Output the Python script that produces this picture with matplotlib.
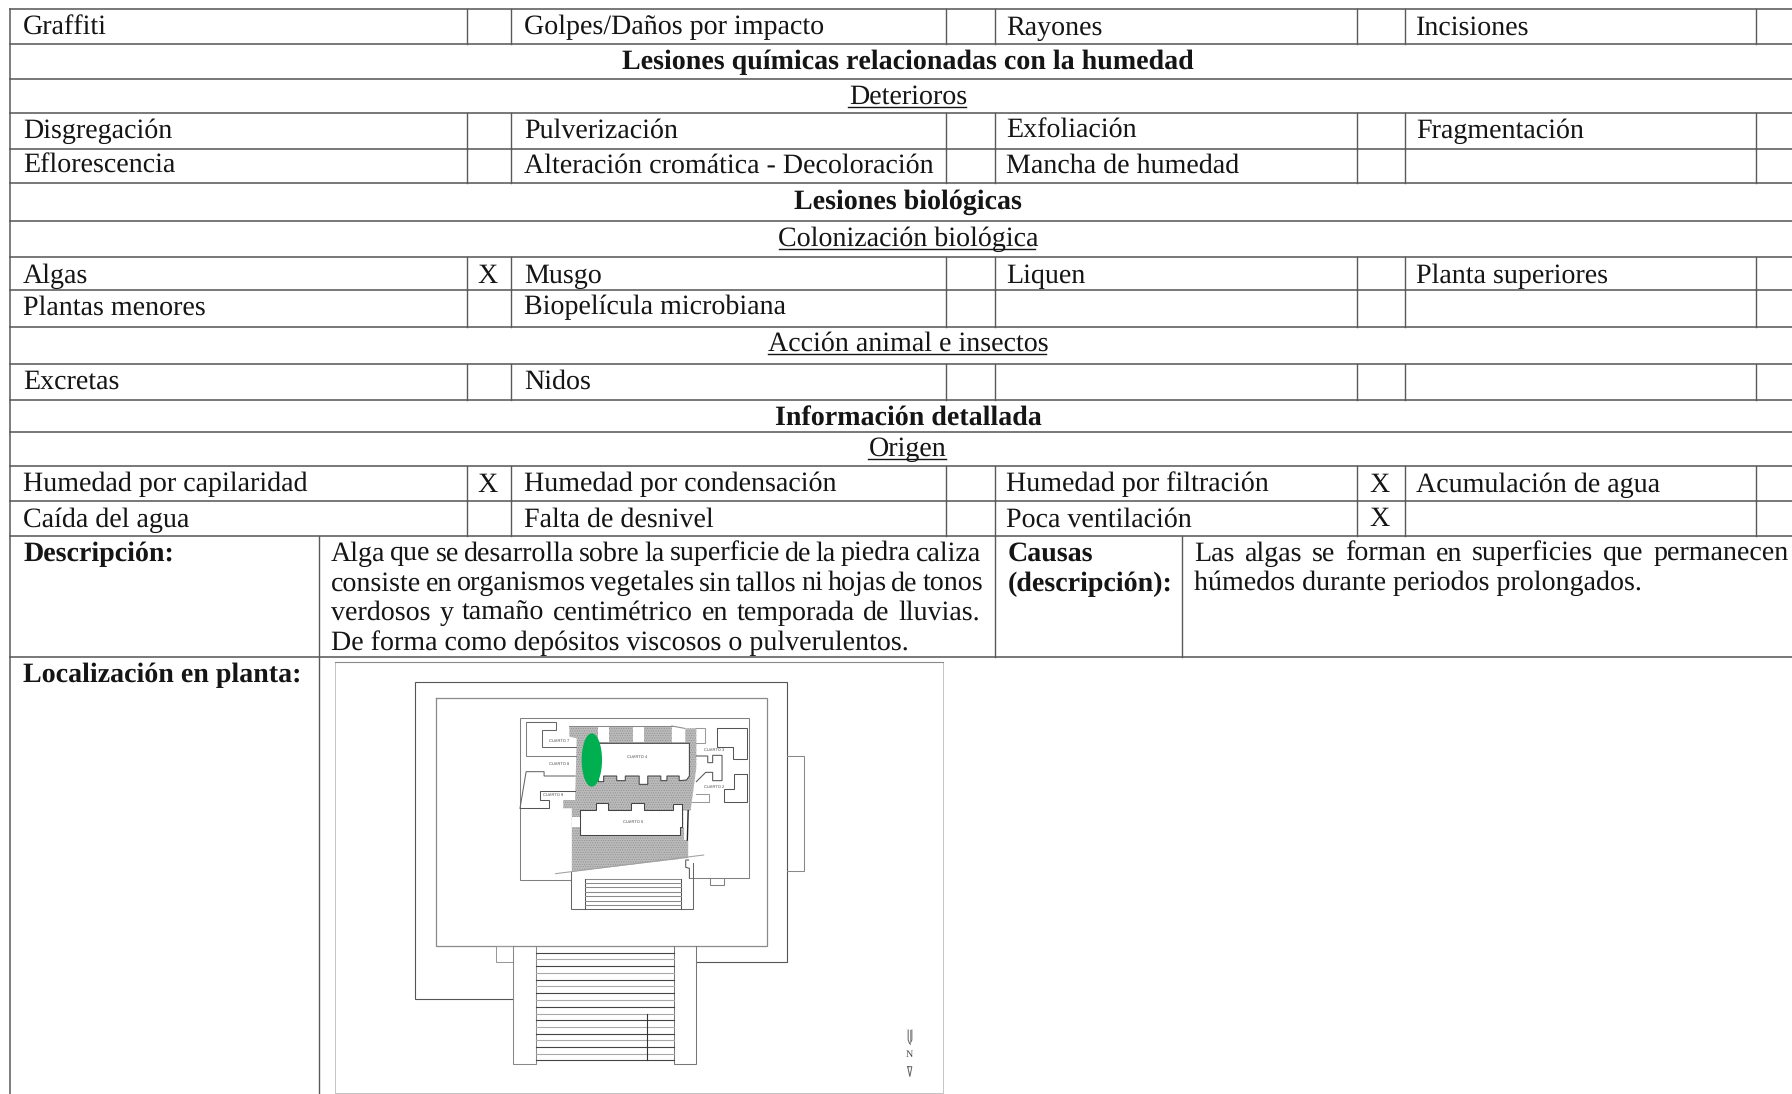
import matplotlib
matplotlib.use("Agg")
import matplotlib.pyplot as plt
from matplotlib.font_manager import FontProperties
from matplotlib.patches import Ellipse, Polygon

plt.rcParams['font.family'] = ['Liberation Serif', 'DejaVu Serif']
plt.rcParams['text.hinting'] = 'none'
plt.rcParams['text.hinting_factor'] = 1
plt.rcParams['hatch.linewidth'] = 0.4

W, H = 1792, 1094
FS = 19.95
LINE = '#5a5a5a'
INK = '#151515'

fig = plt.figure(figsize=(W / 100, H / 100), dpi=100, facecolor='white')
ax = fig.add_axes([0, 0, 1, 1])
ax.set_xlim(0, W)
ax.set_ylim(H, 0)
ax.axis('off')
renderer = fig.canvas.get_renderer()

# Table grid
row_y = [9, 44, 79, 113, 149, 183, 221, 257, 290, 327, 364, 400, 432, 466, 501, 536, 657]
col_x = [10, 467, 511, 946, 995, 1357, 1405, 1756]
label_pad = [13, 0, 13, 0, 11.5, 0, 11, 0]
row_base = [8, 8, 8, 7, 7, 7, 7, 9.5, 6, 5, 7, 9.5, 7, 8, 8]

# Rows with four label / mark pairs
cell_rows = [
    (0, ["Graffiti", "", "Golpes/Daños por impacto", "", "Rayones", "", "Incisiones", ""]),
    (3, ["Disgregación", "", "Pulverización", "", "Exfoliación", "", "Fragmentación", ""]),
    (4, ["Eflorescencia", "", "Alteración cromática - Decoloración", "", "Mancha de humedad", "", "", ""]),
    (7, ["Algas", "X", "Musgo", "", "Liquen", "", "Planta superiores", ""]),
    (8, ["Plantas menores", "", "Biopelícula microbiana", "", "", "", "", ""]),
    (10, ["Excretas", "", "Nidos", "", "", "", "", ""]),
    (13, ["Humedad por capilaridad", "X", "Humedad por condensación", "", "Humedad por filtración", "X", "Acumulación de agua", ""]),
    (14, ["Caída del agua", "", "Falta de desnivel", "", "Poca ventilación", "X", "", ""]),
]
# Full-width rows
span_rows = [
    (1, "Lesiones químicas relacionadas con la humedad", "bold"),
    (2, "Deterioros", "under"),
    (5, "Lesiones biológicas", "bold"),
    (6, "Colonización biológica", "under"),
    (9, "Acción animal e insectos", "under"),
    (11, "Información detallada", "bold"),
    (12, "Origen", "under"),
]
desc_lines = ["Alga que se desarrolla sobre la superficie de la piedra caliza",
              "consiste en organismos vegetales sin tallos ni hojas de tonos",
              "verdosos y tamaño centimétrico en temporada de lluvias.",
              "De forma como depósitos viscosos o pulverulentos."]
desc_ends = [981, 983, 980, None]
cause_lines = ["Las algas se forman en superficies que permanecen",
               "húmedos durante periodos prolongados."]
cause_ends = [1789, None]


def put(x, y, t, **kw):
    kw.setdefault('fontsize', FS)
    kw.setdefault('color', INK)
    kw.setdefault('va', 'baseline')
    ax.text(x, y, t, **kw)


def justified(x0, x1, y, t):
    if x1 is None:
        put(x0, y, t)
        return
    words = t.split(' ')
    fp = FontProperties(family='Liberation Serif', size=FS)
    widths = [renderer.get_text_width_height_descent(w, fp, False)[0] for w in words]
    gap = (x1 - x0 - sum(widths)) / (len(words) - 1)
    x = x0
    for w, wd in zip(words, widths):
        put(x, y, w)
        x += wd + gap


for y in row_y:
    ax.plot([10, W], [y, y], color=LINE, lw=1.15)
ax.plot([10, 10], [9, H], color=LINE, lw=1.1)
for r, cells in cell_rows:
    for x in col_x[1:]:
        ax.plot([x, x], [row_y[r], row_y[r + 1]], color=LINE, lw=1.0)
    base = (row_y[r] + row_y[r + 1]) / 2 + row_base[r]
    for i, t in enumerate(cells):
        if not t:
            continue
        if i % 2 == 0:
            put(col_x[i] + label_pad[i], base, t)
        else:
            put((col_x[i] + col_x[i + 1]) / 2 - 1, base, t, ha='center')
for r, t, kind in span_rows:
    base = (row_y[r] + row_y[r + 1]) / 2 + row_base[r]
    put(908, base, t, ha='center', fontweight='bold' if kind == 'bold' else 'normal')
    if kind == 'under':
        half = {"Deterioros": 59, "Colonización biológica": 128,
                "Acción animal e insectos": 139, "Origen": 39}[t]
        ax.plot([907 - half, 907 + half], [base + 3, base + 3], color=INK, lw=1.0)

# Description block
for x, y0, y1 in [(319, 536, H), (995, 536, 657), (1182, 536, 657)]:
    ax.plot([x, x], [y0, y1], color=LINE, lw=1.0)
put(23, 561, "Descripción:", fontweight='bold')
put(1008, 561, "Causas", fontweight='bold')
put(1008, 591, "(descripción):", fontweight='bold')
put(23, 682, "Localización en planta:", fontweight='bold')
for i, (t, e) in enumerate(zip(desc_lines, desc_ends)):
    justified(331, e, 560.5 + i * 29.8, t)
for i, (t, e) in enumerate(zip(cause_lines, cause_ends)):
    justified(1194, e, 560.5 + i * 29.8, t)


# Floor plan, described in its own crop units
def px(p):
    return [(320 + x / 2.45, 650 + y / 3) for x, y in p]


def line(p, lw=0.75, c='#555555'):
    q = px(p)
    ax.plot([a for a, _ in q], [b for _, b in q], color=c, lw=lw, solid_joinstyle='miter', zorder=3)


def poly(p, fc, z=2, hatch=None, ec='none'):
    ax.add_patch(Polygon(px(p), closed=True, fc=fc, ec=ec, lw=0, zorder=z, hatch=hatch))


def poly_line(p, fc, z=2):
    poly(p, fc, z)
    line(p + p[:1], c='#444444')


line([(37, 1330), (37, 35), (1527, 35), (1527, 1330), (37, 1330)], lw=0.7, c='#c4c4c4')
line([(37, 35), (1527, 35)], lw=0.8, c='#8a8a8a')

line([(473, 1048), (232, 1048), (232, 97), (1143, 97), (1143, 937), (922, 937)], lw=0.8, c='#555555')
line([(285, 143), (1095, 143), (1095, 887), (285, 887), (285, 143)], c='#8a8a8a', lw=0.9)
line([(1143, 318), (1187, 318), (1187, 662), (1143, 662)], c='#888888')
line([(473, 888), (432, 888), (432, 936), (473, 936)], c='#999999')
line([(473, 887), (473, 1242), (530, 1242), (530, 887)], c='#888888')
line([(868, 887), (868, 1242), (922, 1242), (922, 887)], c='#777777')
step_y = [908, 928, 949, 969, 989, 1009, 1030, 1050, 1070, 1091, 1111, 1131, 1151, 1171, 1191, 1211, 1229]
for i, y in enumerate(step_y):
    line([(530, y), (868, y)], c='#444444' if i % 2 == 0 else '#a8a8a8', lw=0.8)
line([(802, 1092), (802, 1229)], c='#333333', lw=0.8)

line([(615, 689), (489, 689), (489, 203), (1050, 203), (1050, 684), (905, 684)], c='#808080')
line([(615, 665), (615, 778), (914, 778), (914, 640)], c='#666666')
line([(650, 687), (884, 687)], c='#8a8a8a')
line([(650, 687), (650, 778)], c='#555555')
line([(884, 687), (884, 778)], c='#555555')
for y in [699, 712, 725, 739, 752, 766]:
    line([(650, y), (884, y)], c='#8a8a8a')
line([(956, 684), (956, 706), (990, 706), (990, 684)], c='#808080')

GREY = '#bababa'
poly([(611, 228), (862, 228), (862, 277), (895, 277), (895, 235), (922, 235), (922, 352),
      (908, 482), (890, 482), (890, 532), (892, 532), (892, 570), (902, 570), (902, 624),
      (617, 665), (617, 500), (617, 475), (596, 475), (596, 450), (625, 450), (629, 265), (611, 260)],
     GREY, 2, hatch='.......', ec='#8c8c8c')
for p in [[(682, 228), (708, 228), (708, 277), (682, 277)],
          [(766, 228), (795, 228), (795, 277), (766, 277)]]:
    poly(p, 'white', 3)
line([(611, 228), (862, 228)], c='#888888')
line([(862, 228), (893, 235)], c='#888888')

poly_line([(682, 280), (905, 280), (905, 378), (898, 390), (880, 392), (880, 378), (850, 378),
           (850, 392), (835, 392), (835, 378), (803, 378), (803, 403), (782, 403), (782, 378),
           (748, 378), (748, 392), (727, 392), (727, 378), (695, 378), (695, 395), (682, 395)], 'white', 3)
poly_line([(638, 480), (675, 480), (675, 458), (705, 458), (705, 480), (762, 480), (762, 460),
           (795, 460), (795, 480), (865, 480), (865, 462), (888, 462), (888, 530), (882, 530),
           (882, 555), (638, 555)], 'white', 3)
poly([(617, 502), (638, 502), (638, 532), (617, 532)], 'white', 3)

# Left and right annex rooms
line([(505, 215), (578, 215), (578, 240), (545, 240), (545, 290), (627, 290)], c='#666666')
line([(505, 215), (505, 317), (627, 317)], c='#808080')
line([(490, 475), (505, 365), (549, 365), (549, 378), (625, 378)], c='#666666')
line([(490, 475), (560, 475), (560, 450), (538, 450), (538, 424), (625, 424)], c='#555555')
line([(973, 235), (1047, 235), (1047, 328), (1012, 328), (1012, 290), (973, 290), (973, 235)], c='#555555')
line([(922, 235), (944, 235), (944, 280), (922, 280)], c='#999999')
line([(922, 318), (950, 318), (950, 338), (962, 338), (962, 316), (985, 316), (985, 392),
      (962, 392), (962, 367), (945, 367), (922, 395)], c='#555555')
line([(1047, 372), (1015, 372), (1015, 418), (990, 418), (990, 457), (1047, 457), (1047, 372)], c='#555555')
line([(922, 432), (952, 432), (952, 457), (912, 457)], c='#999999')
line([(902, 482), (900, 570)], c='#222222', lw=1.0)
line([(903, 630), (896, 630), (896, 652), (905, 655), (905, 684)], c='#555555')
line([(577, 671), (940, 615)], c='#a0a0a0')

ax.add_patch(Ellipse(px([(666, 330)])[0], 50 / 2.45, 160 / 3, fc='#00b050', ec='none', zorder=4))

room_labels = [("CUARTO 7", 586, 273), ("CUARTO 8", 586, 341), ("CUARTO 9", 571, 436),
               ("CUARTO 4", 776, 320), ("CUARTO 5", 767, 516), ("CUARTO 3", 965, 300),
               ("CUARTO 2", 965, 412)]
for t, x, y in room_labels:
    X, Y = px([(x, y)])[0]
    ax.text(X, Y, t, fontsize=3.2, ha='center', va='center', color='#444444', zorder=5,
            family=['Liberation Sans'])

# North arrow
line([(1441, 1140), (1441, 1170), (1445, 1182), (1450, 1170), (1450, 1140)], c='#666666')
line([(1445, 1140), (1445, 1182)], c='#999999')
line([(1440, 1250), (1445, 1280), (1450, 1250), (1440, 1250)], c='#666666')
NX, NY = px([(1445, 1215)])[0]
ax.text(NX, NY, "N", fontsize=7, ha='center', va='center', color='#444444', zorder=5)

fig.savefig("out.png", dpi=100, facecolor='white')
